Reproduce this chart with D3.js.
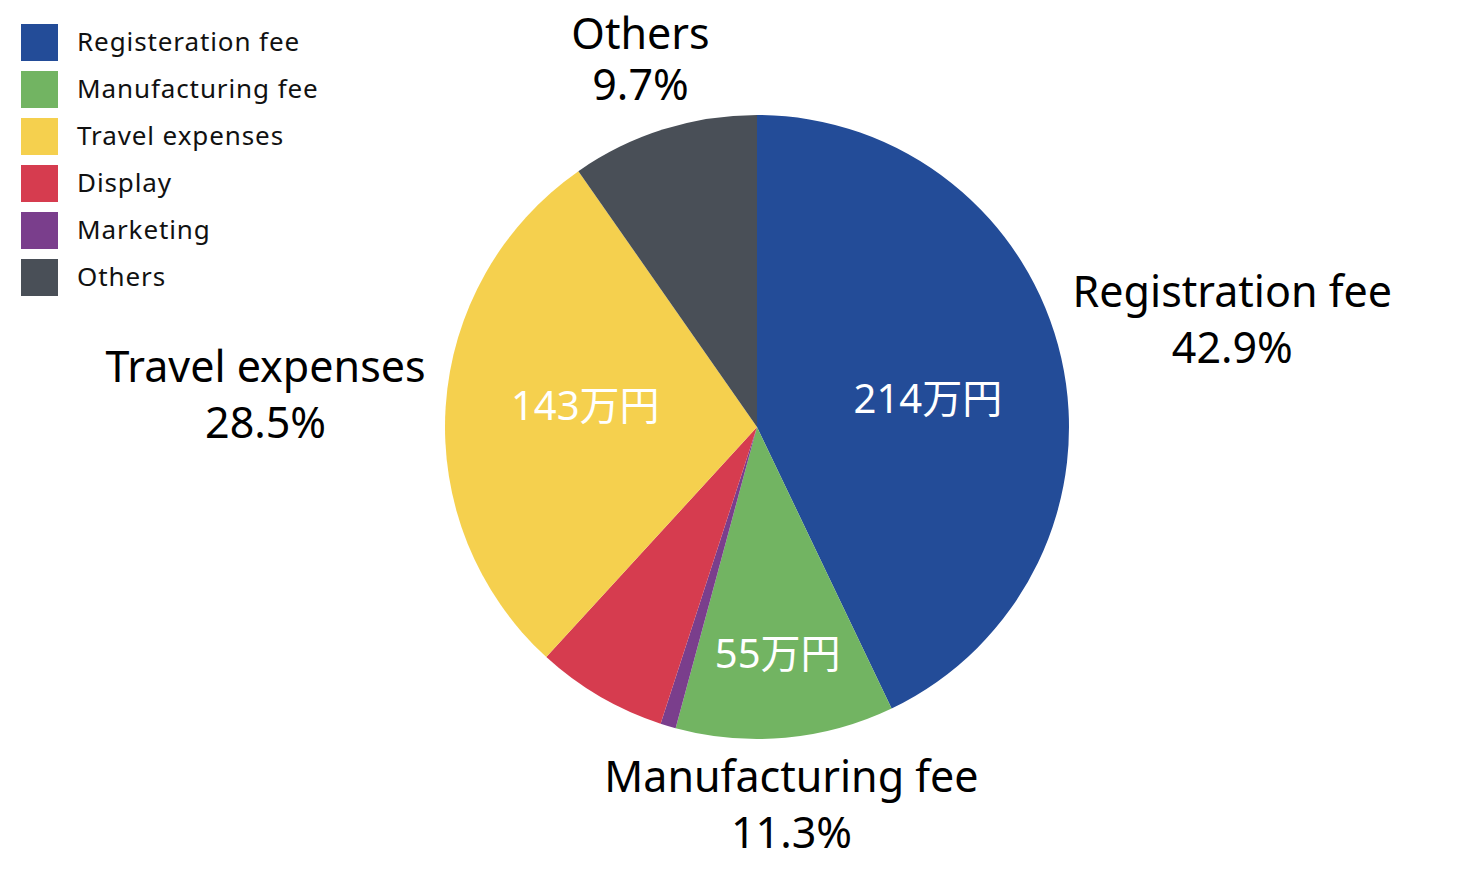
<!DOCTYPE html>
<html>
<head>
<meta charset="utf-8">
<script src="https://cdn.jsdelivr.net/npm/d3@7"></script>
<style>
  body { margin: 0; background: #fff; }
</style>
</head>
<body>
<script>
// slice data, clockwise from 12 o'clock
const sliceNames = ['Registration fee', 'Manufacturing fee', 'Marketing', 'Display', 'Travel expenses', 'Others'];
const slicePercents = [42.9, 11.3, 0.8, 6.8, 28.5, 9.7];
const sliceAmounts = ['214万円', '55万円', '', '', '143万円', ''];
const showOuterLabel = [true, true, false, false, true, true];
const sliceColors = ['#234c98', '#72b462', '#7a3e8c', '#d63c4f', '#f5d04e', '#494f57'];

// legend (order as in the picture)
const legendNames = ['Registeration fee', 'Manufacturing fee', 'Travel expenses', 'Display', 'Marketing', 'Others'];
const legendColors = ['#234c98', '#72b462', '#f5d04e', '#d63c4f', '#7a3e8c', '#494f57'];

const W = 1458, H = 874;
const cx = 757, cy = 427, radius = 312;
const labelFont = '"Noto Sans", "Noto Sans CJK JP", sans-serif';

const svg = d3.select('body').append('svg')
    .attr('width', W)
    .attr('height', H);

const data = sliceNames.map((n, i) => ({
    name: n, pct: slicePercents[i], amount: sliceAmounts[i],
    outer: showOuterLabel[i], color: sliceColors[i]
}));

const pie = d3.pie().sort(null).value(d => d.pct);
const arcs = pie(data);
const arc = d3.arc().innerRadius(0).outerRadius(radius);

const g = svg.append('g').attr('transform', `translate(${cx},${cy})`);

g.selectAll('path')
    .data(arcs)
    .enter().append('path')
    .attr('d', arc)
    .attr('fill', d => d.data.color);

// amount labels inside slices
g.selectAll('.amount')
    .data(arcs.filter(d => d.data.amount))
    .enter().append('text')
    .attr('class', 'amount')
    .attr('transform', d => {
        const narrow = (d.endAngle - d.startAngle) < 1;
        const a = (d.startAngle + d.endAngle) / 2 + (narrow ? 0 : 0.06);
        const r = narrow ? radius * 0.73 : radius * 0.555;
        return `translate(${Math.sin(a) * r},${-Math.cos(a) * r})`;
    })
    .attr('text-anchor', 'middle')
    .attr('dy', '0.36em')
    .style('font-family', labelFont)
    .style('font-size', '40px')
    .style('fill', 'white')
    .text(d => d.data.amount);

// outer name + percent labels
function labelPos(d) {
    const a = (d.startAngle + d.endAngle) / 2;
    const s = Math.sin(a);
    const r = radius + 66 + 115 * s * s; // push out more on the sides
    return [s * r, -Math.cos(a) * r];
}

const outer = g.selectAll('.outer')
    .data(arcs.filter(d => d.data.outer))
    .enter().append('text')
    .attr('class', 'outer')
    .attr('transform', d => `translate(${labelPos(d)})`)
    .attr('text-anchor', 'middle')
    .style('font-family', labelFont)
    .style('font-size', '43px')
    .style('fill', '#000');

outer.append('tspan')
    .attr('x', 0)
    .attr('y', d => {
        // keep the top line inside the picture
        const ly = cy + labelPos(d)[1];
        return Math.max(-28, 34 - ly);
    })
    .attr('dy', '0.36em')
    .text(d => d.data.name);

outer.append('tspan')
    .attr('x', 0)
    .attr('y', 28)
    .attr('dy', '0.36em')
    .text(d => d.data.pct.toFixed(1) + '%');

// legend
const legend = svg.append('g').attr('transform', 'translate(21,24)');
const legendY = d3.scaleBand().domain(legendNames).range([0, 47 * legendNames.length]);

const item = legend.selectAll('.item')
    .data(legendNames)
    .enter().append('g')
    .attr('class', 'item')
    .attr('transform', d => `translate(0,${legendY(d)})`);

item.append('rect')
    .attr('width', 37)
    .attr('height', 37)
    .attr('fill', (d, i) => legendColors[i]);

item.append('text')
    .attr('x', 56)
    .attr('y', 18)
    .attr('dy', '0.36em')
    .style('font-family', '"Noto Sans", sans-serif')
    .style('font-size', '26px')
    .style('letter-spacing', '0.9px')
    .style('fill', '#111')
    .text(d => d);
</script>
</body>
</html>
